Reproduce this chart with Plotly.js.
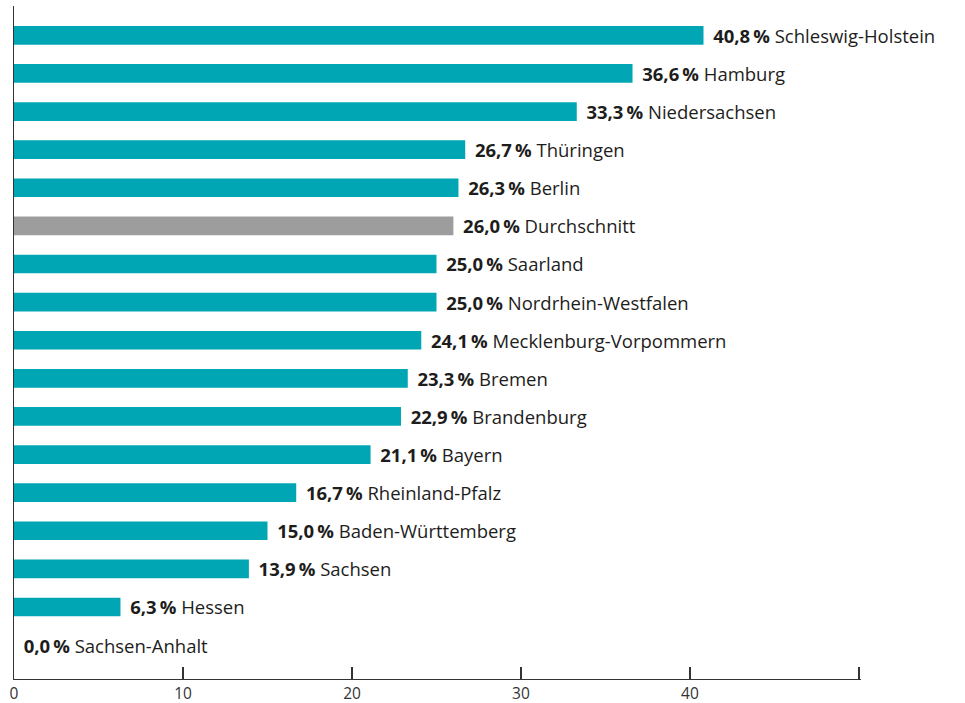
<!DOCTYPE html>
<html>
<head>
<meta charset="utf-8">
<script src="https://cdn.plot.ly/plotly-3.0.1.min.js"></script>
<style>
  body { margin: 0; background: #fff; }
  #myDiv { width: 965px; height: 703px; }
</style>
</head>
<body>
<div id="myDiv"></div>
<script>
// Länder, von oben nach unten
var laender = ['Schleswig-Holstein', 'Hamburg', 'Niedersachsen', 'Thüringen', 'Berlin',
  'Durchschnitt', 'Saarland', 'Nordrhein-Westfalen', 'Mecklenburg-Vorpommern', 'Bremen',
  'Brandenburg', 'Bayern', 'Rheinland-Pfalz', 'Baden-Württemberg', 'Sachsen', 'Hessen',
  'Sachsen-Anhalt'];
var anteil = [40.8, 36.6, 33.3, 26.7, 26.3, 26.0, 25.0, 25.0, 24.1, 23.3, 22.9, 21.1,
  16.7, 15.0, 13.9, 6.3, 0.0];
var xTicks = [0, 10, 20, 30, 40, 50];
var xTickLabels = ['0', '10', '20', '30', '40', ''];

var teal = '#00a6b4';
var grau = '#9d9d9d';

function fmt(v) {
  return v.toFixed(1).replace('.', ',') + '\u2009%';
}

var labels = [];
var farben = [];
for (i = 0; i < laender.length; i++) {
  labels.push('\u00a0\u200a<b>' + fmt(anteil[i]) + '</b> ' + laender[i]);
  farben.push(laender[i] == 'Durchschnitt' ? grau : teal);
}

var data = [{
  type: 'bar',
  orientation: 'h',
  x: anteil,
  y: laender,
  width: 0.49,
  marker: { color: farben, line: { width: 0 } },
  text: labels,
  textposition: 'outside',
  constraintext: 'none',
  cliponaxis: false,
  textfont: { family: '"Open Sans", sans-serif', size: 18.5, color: '#1d1d1b' },
  hoverinfo: 'none'
}];

var layout = {
  width: 965,
  height: 703,
  margin: { l: 14, r: 104, t: 6, b: 24 },
  paper_bgcolor: '#ffffff',
  plot_bgcolor: '#ffffff',
  showlegend: false,
  xaxis: {
    range: [0, 50.12],
    tickvals: xTicks,
    ticktext: xTickLabels,
    ticks: 'inside',
    ticklen: 12,
    tickwidth: 1.3,
    tickcolor: '#333333',
    ticklabelstandoff: 0,
    showline: true,
    linecolor: '#333333',
    linewidth: 1.3,
    showgrid: false,
    zeroline: false,
    tickfont: { family: '"Open Sans", sans-serif', size: 15.5, color: '#333333' },
    fixedrange: true
  },
  yaxis: {
    type: 'category',
    range: [16.89, -0.77],
    showticklabels: false,
    ticks: '',
    showline: true,
    linecolor: '#333333',
    linewidth: 1.3,
    showgrid: false,
    zeroline: false,
    fixedrange: true
  }
};

Plotly.newPlot('myDiv', data, layout, { displayModeBar: false, staticPlot: true });
</script>
</body>
</html>
